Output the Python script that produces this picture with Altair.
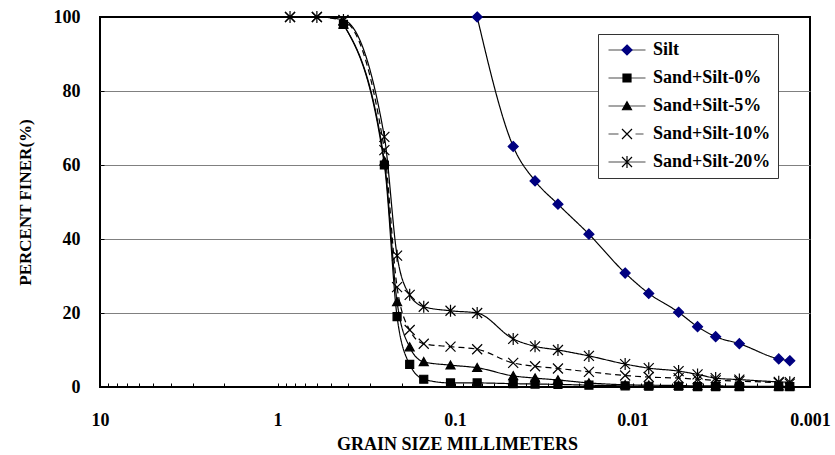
import altair as alt
import pandas as pd

# ---------------- data ----------------
SERIES = ["Silt", "Sand+Silt-0%", "Sand+Silt-5%", "Sand+Silt-10%", "Sand+Silt-20%"]

SIEVE_SIZES = [0.85, 0.6, 0.425, 0.25, 0.212, 0.18, 0.15, 0.106, 0.075]
HYDRO_SIZES = [0.047, 0.0354, 0.0263, 0.0176, 0.011, 0.0081, 0.0055,
               0.0043, 0.0034, 0.0025, 0.0015, 0.0013]

SILT_SIZES = [0.075] + HYDRO_SIZES
SILT_FINER = [100, 65, 55.7, 49.4, 41.3, 30.8, 25.3, 20.2, 16.3, 13.6, 11.7, 7.6, 7.1]

MIX0_SIZES = [0.425, 0.25, 0.212, 0.18, 0.15, 0.106, 0.075] + HYDRO_SIZES
MIX0_FINER = [98, 60, 19, 6.1, 2.1, 1.1, 1.1,
              0.9, 0.8, 0.7, 0.5, 0.3, 0.2, 0.2, 0.1, 0.1, 0.1, 0.1, 0.1]

MIX5_SIZES = [0.425, 0.25, 0.212, 0.18, 0.15, 0.106, 0.075] + HYDRO_SIZES
MIX5_FINER = [98, 61, 23, 10.8, 6.8, 5.9, 5.2,
              3.0, 2.4, 1.9, 1.1, 0.6, 0.5, 0.4, 0.3, 0.3, 0.2, 0.2, 0.2]

MIX10_SIZES = SIEVE_SIZES + HYDRO_SIZES
MIX10_FINER = [100, 100, 99, 64, 27, 15.4, 11.7, 10.9, 10.2,
               6.5, 5.6, 5.0, 4.1, 3.1, 2.7, 2.4, 2.1, 1.8, 1.6, 1.1, 0.9]

MIX20_SIZES = SIEVE_SIZES + HYDRO_SIZES
MIX20_FINER = [100, 100, 99.2, 67.6, 35.5, 24.9, 21.7, 20.6, 20.0,
               13.0, 11.0, 10.0, 8.4, 6.2, 5.1, 4.3, 3.4, 2.4, 2.0, 1.4, 1.3]

X_LABEL_VALUES = [10, 1, 0.1, 0.01, 0.001]
X_MINOR_VALUES = [m * d for d in [1, 0.1, 0.01, 0.001] for m in range(1, 10)]
Y_LABEL_VALUES = [0, 20, 40, 60, 80, 100]
Y_GRID_VALUES = [20, 40, 60, 80]

# ---------------- styling ----------------
MARKER_COLORS = ["#000080", "black", "black", "black", "black"]
MARKER_SHAPES = [
    "M0,-1L1,0L0,1L-1,0Z",                      # diamond
    "M-0.8,-0.8L0.8,-0.8L0.8,0.8L-0.8,0.8Z",    # square
    "M0,-0.85L0.9,0.75L-0.9,0.75Z",             # triangle
    "M-1,-1L1,1M-1,1L1,-1",                     # x
    "M-1,-1L1,1M-1,1L1,-1M0,-1.2L0,1.2",        # asterisk
]
LEGEND_LINES = [
    "M-3.7,0L3.7,0",
    "M-3.7,0L3.7,0",
    "M-3.7,0L3.7,0",
    "M-3.7,0L-1.7,0M1.7,0L3.3,0",
    "M-3.7,0L3.7,0",
]
LINE_DASH = [[1, 0], [1, 0], [1, 0], [6, 4], [1, 0]]

FONT = "Liberation Serif"

rows = []
for name, sizes, vals in [
    (SERIES[0], SILT_SIZES, SILT_FINER),
    (SERIES[1], MIX0_SIZES, MIX0_FINER),
    (SERIES[2], MIX5_SIZES, MIX5_FINER),
    (SERIES[3], MIX10_SIZES, MIX10_FINER),
    (SERIES[4], MIX20_SIZES, MIX20_FINER),
]:
    for s, v in zip(sizes, vals):
        rows.append({"series": name, "size": s, "finer": v})
df = pd.DataFrame(rows)

W, H = 710, 370
LX, LY = 498, 17

x_scale = alt.Scale(type="log", domain=[0.001, 10], reverse=True, nice=False)
y_scale = alt.Scale(domain=[0, 100], nice=False)

common_legend = dict(
    orient="none", legendX=LX, legendY=LY, title=None,
    symbolSize=100, symbolStrokeWidth=1.2,
    padding=7, rowPadding=10, symbolOffset=13, labelOffset=17,
    labelFont=FONT, labelFontWeight="bold", labelFontSize=18, labelColor="black",
    labelLimit=300,
)

base = alt.Chart(df)

# layer 0: legend line segments (no data drawn)
legend_lines = base.transform_filter("false").mark_point(
    filled=False, color="black", strokeWidth=1.2, size=100
).encode(
    shape=alt.Shape(
        "series:N",
        scale=alt.Scale(domain=SERIES, range=LEGEND_LINES),
        legend=alt.Legend(**common_legend, labelOpacity=0,
                          fillColor="white", strokeColor="#333333",
                          symbolStrokeColor="black"),
    )
)

# layer 1: smoothed curves
lines = base.mark_line(color="black", strokeWidth=1.2, interpolate="monotone").encode(
    x=alt.X("size:Q", scale=x_scale,
            axis=alt.Axis(orient="bottom", values=X_LABEL_VALUES, format="~g",
                          ticks=False, domain=False, grid=False,
                          labelFont=FONT, labelFontWeight="bold", labelFontSize=18,
                          labelColor="black", labelPadding=24, labelFlush=False,
                          title="GRAIN SIZE MILLIMETERS", titleFont=FONT,
                          titleFontWeight="bold", titleFontSize=18, titleColor="black",
                          titleX=357, titleY=57, titleBaseline="middle")),
    y=alt.Y("finer:Q", scale=y_scale,
            axis=alt.Axis(orient="left", values=Y_LABEL_VALUES, ticks=False,
                          domain=False, grid=False,
                          labelFont=FONT, labelFontWeight="bold", labelFontSize=18,
                          labelColor="black", labelPadding=20,
                          title="PERCENT FINER(%)", titleFont=FONT,
                          titleFontWeight="bold", titleFontSize=17, titleColor="black",
                          titleX=-75, titleY=185, titleBaseline="middle")),
    detail="series:N",
    strokeDash=alt.StrokeDash("series:N", scale=alt.Scale(domain=SERIES, range=LINE_DASH),
                              legend=None),
    order=alt.Order("size:Q", sort="descending"),
)

marker_legend = alt.Legend(**common_legend)

# layer 2: markers
points = base.mark_point(filled=True, size=100, strokeWidth=1.2, opacity=1).encode(
    x=alt.X("size:Q", scale=x_scale,
            axis=alt.Axis(orient="top", offset=-H, values=X_MINOR_VALUES,
                          labels=False, domain=False, grid=False, ticks=True,
                          tickSize=4, tickColor="black", tickWidth=1, title=None)),
    y=alt.Y("finer:Q", scale=y_scale,
            axis=alt.Axis(orient="right", offset=-W, values=Y_GRID_VALUES,
                          labels=False, domain=False, grid=True, gridColor="#808080",
                          gridWidth=1, ticks=True, tickSize=4, tickColor="black",
                          title=None)),
    shape=alt.Shape("series:N", scale=alt.Scale(domain=SERIES, range=MARKER_SHAPES),
                    legend=marker_legend),
    fill=alt.Fill("series:N", scale=alt.Scale(domain=SERIES, range=MARKER_COLORS),
                  legend=marker_legend),
    stroke=alt.Stroke("series:N", scale=alt.Scale(domain=SERIES, range=MARKER_COLORS),
                      legend=marker_legend),
)

chart = alt.layer(legend_lines, lines, points).resolve_scale(
    shape="independent", fill="independent", stroke="independent"
).properties(
    width=W, height=H, autosize="none",
    padding={"left": 100, "top": 17, "right": 25, "bottom": 68},
    background="white",
).configure_view(stroke="black", strokeWidth=2)

chart.save("out.html", embed_options={"renderer": "svg", "actions": False})
